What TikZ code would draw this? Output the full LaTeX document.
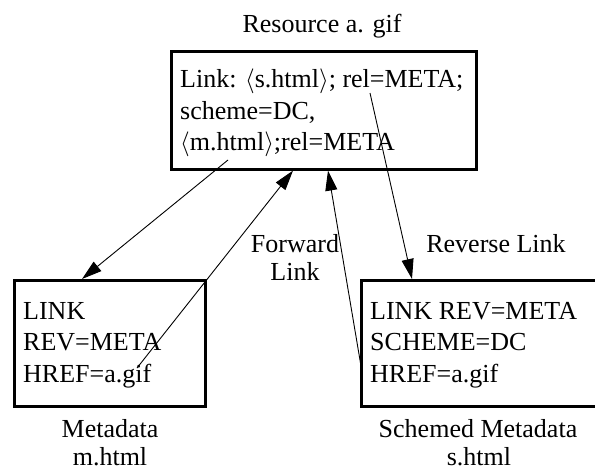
\documentclass[tikz,border=0pt]{standalone}
\usepackage{fontspec}
\setmainfont{Liberation Serif}
\usetikzlibrary{arrows.meta}
\begin{document}
\begin{tikzpicture}[x=1pt,y=-1pt,
  box/.style={draw, line width=2.6pt, inner sep=0pt, anchor=north west},
  txt/.style={anchor=base west, inner sep=0pt, font=\fontsize{26}{31.5}\selectfont},
  captxt/.style={anchor=base, inner sep=0pt, font=\fontsize{26}{28}\selectfont},
  arr/.style={line width=0.9pt, -{Triangle[length=20pt,width=12pt]}}]
\useasboundingbox (0,0) rectangle (595,471);
\begin{scope}
\clip (0,0) rectangle (595,471);
% boxes
\node[box, minimum width=305pt, minimum height=118pt] (res) at (170,50) {};
\node[box, minimum width=191pt, minimum height=126pt] (mbox) at (13,279) {};
\node[box, minimum width=240pt, minimum height=126pt] (sbox) at (360,279) {};
\end{scope}
% box texts
\node[txt] (r1) at (180,87) {Link: $\langle$s.html$\rangle$; rel=META;};
\node[txt] (r2) at (180,119) {scheme=DC,};
\node[txt] (r3) at (180,150) {$\langle$m.html$\rangle$;rel=META};
\node[txt] (m1) at (23,319) {LINK};
\node[txt] (m2) at (23,350.5) {REV=META};
\node[txt] (m3) at (23,382) {HREF=a.gif};
\node[txt] (s1) at (370,319) {LINK REV=META};
\node[txt] (s2) at (370,350.5) {SCHEME=DC};
\node[txt] (s3) at (370,382) {HREF=a.gif};
% captions
\node[captxt] (tres) at (322,32) {Resource a. gif};
\node[captxt] (tm1) at (110,437) {Metadata};
\node[captxt] (tm2) at (110,465) {m.html};
\node[captxt] (ts1) at (478,437) {Schemed Metadata};
\node[captxt] (ts2) at (479,465) {s.html};
\node[captxt] (fw1) at (295,252) {Forward};
\node[captxt] (fw2) at (295,280) {Link};
\node[captxt] (rv) at (496,252) {Reverse Link};
% connector ends
\coordinate (a1s) at (228,160);
\coordinate (a2s) at (137,368);
\coordinate (a3s) at (362,372);
\coordinate (a4s) at (370,93);
\draw[arr] (a1s) -- ([xshift=69pt]mbox.north west);
\draw[arr] (a2s) -- ([xshift=123pt]res.south west);
\draw[arr] (a3s) -- ([xshift=158pt]res.south west);
\draw[arr] (a4s) -- ([xshift=52pt]sbox.north west);
\end{tikzpicture}
\end{document}
